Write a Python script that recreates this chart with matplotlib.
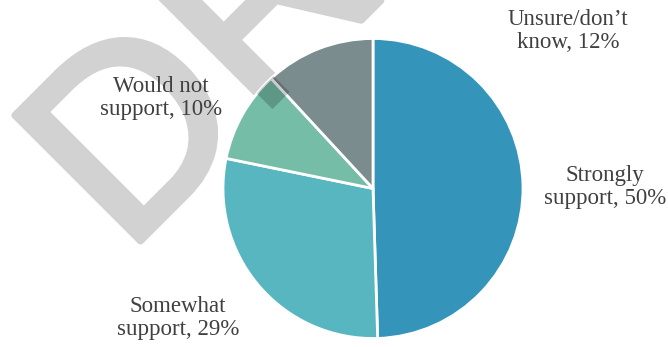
import numpy as np
import matplotlib.pyplot as plt
import matplotlib.patheffects as pe

# survey answers, clockwise from the top
answers = ['Strongly\nsupport', 'Somewhat\nsupport', 'Would not\nsupport', 'Unsure/don\u2019t\nknow']
shares = [50, 29, 10, 12]
colors = ['#3494BA', '#58B6C0', '#75BDA7', '#7A8C8E']

# label anchors (in pie radii from the centre)
label_xy = [(1.547, 0.01), (-1.30, -0.863), (-1.413, 0.603), (1.300, 1.050)]

fig = plt.figure(figsize=(6.68, 3.47), dpi=100)
ax = fig.add_axes([0, 0, 1, 1])

wedges, _ = ax.pie(shares, colors=colors, startangle=90, counterclock=False, radius=1.0,
                   wedgeprops=dict(edgecolor='white', linewidth=2))

for name, val, (x, y) in zip(answers, shares, label_xy):
    ax.text(x, y, '%s, %d%%' % (name, val), ha='center', va='center',
            fontsize=16.5, family='Liberation Serif', color='#404040',
            linespacing=1.1)

# draft watermark: light grey behind the pie, translucent dark over it
wm = dict(rotation=45, rotation_mode='anchor', ha='left', va='baseline',
          fontsize=186, family='Liberation Sans')
wm_xy = (-1.65, -0.45)
ax.text(*wm_xy, 'DRAFT', color='#D2D2D2', zorder=0,
        path_effects=[pe.Stroke(linewidth=5, foreground='#D2D2D2'), pe.Normal()], **wm)
over = ax.text(*wm_xy, 'DRAFT', color='black', alpha=0.2, zorder=10, clip_on=True,
               path_effects=[pe.Normal()], **wm)
over.set_clip_path(plt.Circle((0, 0), 1.0, transform=ax.transData))

ax.set_xlim(-373 / 150, (668 - 373) / 150)
ax.set_ylim((188.5 - 347) / 150, 188.5 / 150)
ax.set_aspect('auto')
ax.axis('off')

fig.savefig('out.png', dpi=100)
